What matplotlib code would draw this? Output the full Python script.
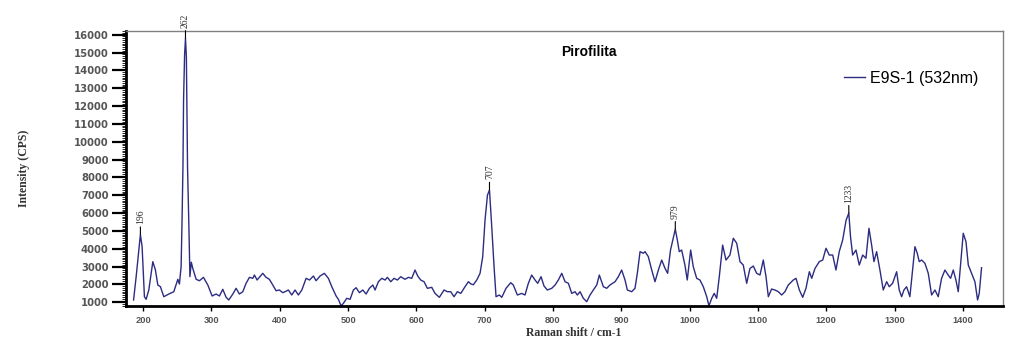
import matplotlib.pyplot as plt
from matplotlib.ticker import MultipleLocator

# Raman spectrum, pyrophyllite sample E9S-1 (532 nm laser)
shift = [
    186, 189.8, 193.7, 196, 198.5, 201.9, 204.4, 208.3, 214.2, 218, 221.5, 225.3,
    230.3, 237.6, 244.9, 250.8, 253.1, 255.6, 256.8, 258.3, 259.2, 260.7, 262,
    263.3, 265, 267, 268.5, 270.5, 272.7, 277.6, 282.4, 288.3, 294.7, 301, 306.8,
    311.7, 316.6, 321.5, 325.4, 331.3, 336.1, 340.9, 345.9, 350.7, 355.6, 360.5,
    362.9, 366.8, 375.1, 380, 384.8, 389.8, 394.6, 399.5, 404.4, 407.8, 412.6,
    417.6, 422.4, 427.3, 432.3, 438.6, 443.5, 449.3, 453.2, 459, 465.3, 471.2,
    476.2, 482.5, 485.8, 489.8, 493.2, 498.1, 503, 507.8, 511.7, 516.6, 521.5,
    526.4, 531.2, 536.2, 539.5, 544.4, 549.3, 554.2, 557.5, 562.5, 567.3, 572.2,
    577.1, 583.4, 588.3, 593.2, 598, 602, 606.3, 611.2, 616.1, 622.5, 627.3,
    633.6, 640.5, 645.4, 650.3, 655.1, 660, 665, 671.2, 676.1, 680, 683.4, 688.4,
    693.2, 697.1, 700.5, 704, 707, 710.3, 713.7, 716.6, 721.4, 725, 731.2, 738.1,
    741.9, 747.8, 754.2, 759, 763.9, 768.8, 773.7, 777.6, 782.5, 786.8, 791.7,
    798.1, 803, 807.8, 812.8, 817.6, 822.5, 827.4, 832.2, 835.6, 839.6, 844.4,
    849.4, 854.2, 859, 864, 867.8, 873.7, 878.6, 883.4, 890.8, 895.6, 900.5,
    905.4, 908.8, 915.2, 920, 923.4, 927.4, 932.2, 934.7, 939.5, 944.5, 949.3,
    954.2, 959.1, 964, 967.8, 972, 979, 982, 984.8, 988.3, 993.1, 996.5, 1001.5,
    1005.3, 1010.3, 1015.1, 1020, 1025, 1028.3, 1032.3, 1036, 1039.6, 1043.4,
    1048.3, 1053.2, 1059, 1063.9, 1068.9, 1073.7, 1078.5, 1083.5, 1088.3, 1093.2,
    1098.1, 1103, 1107.8, 1111.8, 1115.2, 1120, 1124.9, 1129.8, 1134.7, 1139.5,
    1144.4, 1151.7, 1155.7, 1160.6, 1165.5, 1170.3, 1175.2, 1178.7, 1183.5,
    1189.8, 1194.8, 1199.6, 1204.4, 1209.4, 1214.2, 1219, 1224, 1229, 1233,
    1235.5, 1238.6, 1243.5, 1248.3, 1253.3, 1258.1, 1262.5, 1266.4, 1269.8,
    1273.7, 1278.6, 1283.4, 1288.4, 1292.2, 1297.1, 1303, 1306.8, 1310.3, 1313.7,
    1317.6, 1322.4, 1329.8, 1333.2, 1336.1, 1339.6, 1344.4, 1349.3, 1354.2,
    1359.1, 1363.9, 1368.8, 1373.7, 1378.5, 1382, 1385.9, 1389.8, 1393.2, 1396.7,
    1400.5, 1404.5, 1407.9, 1412.8, 1417.6, 1421.5, 1423.9, 1427.3,
]
intensity = [
    1130, 2435, 3930, 4800, 4120, 1315, 1170, 1690, 3280, 2810, 1970, 1875,
    1315, 1465, 1595, 2290, 2025, 3000, 5240, 8600, 12350, 14870, 15800,
    14780, 8600, 5240, 2440, 3250, 2900, 2290, 2210, 2400, 1970, 1355, 1465,
    1355, 1730, 1280, 1130, 1465, 1785, 1465, 1595, 2065, 2400, 2345,
    2530, 2250, 2625, 2400, 2290, 1970, 1650, 1690, 1540, 1595, 1690,
    1410, 1690, 1410, 1690, 2345, 2250, 2475, 2210, 2475, 2625, 2345,
    1875, 1355, 1170, 800, 945, 1225, 1170, 1690, 1820, 1540, 1690,
    1465, 1785, 1970, 1690, 2155, 2345, 2250, 2400, 2155, 2345, 2250,
    2435, 2290, 2400, 2345, 2810, 2475, 2250, 2155, 1785, 1840, 1500,
    1280, 1690, 1595, 1595, 1315, 1595, 1500, 1875, 2155, 2025, 1985, 2250,
    2625, 3560, 5615, 7000, 7300, 5240, 3000, 1315, 1410, 1280, 1785, 2100,
    1970, 1410, 1500, 1410, 2065, 2530, 2250, 2065, 2435, 1915, 1690,
    1785, 1970, 2250, 2625, 2155, 2065, 1500, 1595, 1410, 1595, 1225,
    1035, 1410, 1690, 1970, 2530, 1875, 1785, 1970, 2155, 2435, 2810,
    2250, 1690, 1595, 1785, 2625, 3840, 3750, 3840, 3560, 2810, 2155,
    2810, 3370, 2900, 2625, 3930, 5100, 4490, 3840, 3930, 3090, 2250, 3930,
    3000, 2345, 2250, 1875, 1315, 800, 1225, 1500, 1225, 2435,
    4210, 3370, 3650, 4590, 4310, 3280, 3090, 2065, 2900, 3035,
    2625, 2530, 3370, 2435, 1315, 1745, 1690, 1595, 1410, 1595,
    1970, 2250, 2345, 1690, 1280, 1785, 2715, 2345, 2900,
    3280, 3370, 4030, 3650, 3650, 2810, 3840, 4490, 5600, 6000,
    4680, 3650, 3930, 3090, 3650, 3470, 5150, 4210, 3280,
    3840, 2800, 1690, 2155, 1875, 2065, 2715, 1690, 1315, 1690,
    1875, 1315, 4120, 3750, 3280, 3370, 3190, 2625, 1410,
    1690, 1315, 2345, 2810, 2530, 2345, 2810, 2250, 1595, 3190,
    4870, 4400, 3090, 2625, 2155, 1130, 1500, 2940,
]

# labelled band positions (cm-1)
peaks = [196, 262, 707, 979, 1233]

x_ticks = list(range(200, 1401, 100))
y_ticks = list(range(1000, 16001, 1000))

line_color = '#2c2c82'

fig = plt.figure(figsize=(10.1, 3.41), dpi=100)
ax = fig.add_axes([0.1248, 0.1026, 0.8682, 0.8065])

ax.plot(shift, intensity, color=line_color, lw=1.0, label='E9S-1 (532nm)')

# peak markers: short vertical tick plus rotated wavenumber
for p in peaks:
    ax.annotate(str(p), xy=(p, intensity[shift.index(p)]), xytext=(0, 7.5),
                textcoords='offset points', rotation=90, ha='center', va='bottom',
                fontsize=7, family='Liberation Serif', color='#333333',
                annotation_clip=False,
                arrowprops=dict(arrowstyle='-', lw=0.8, color='black',
                                shrinkA=0, shrinkB=0))

ax.set_xlim(175, 1458.6)
ax.set_ylim(793, 16207)
ax.set_xticks(x_ticks)
ax.set_yticks(y_ticks)
ax.yaxis.set_minor_locator(MultipleLocator(100))

for lab in ax.get_xticklabels():
    lab.set_family('Liberation Sans')
    lab.set_fontweight('bold')
    lab.set_fontsize(6.7)
    lab.set_color('#555555')
for lab in ax.get_yticklabels():
    lab.set_family('DejaVu Sans')
    lab.set_fontweight('bold')
    lab.set_fontsize(7.2)
    lab.set_color('#555555')

ax.tick_params(axis='y', which='major', direction='out', length=10, width=1.6,
               pad=2.5, color='black')
ax.tick_params(axis='y', which='minor', direction='out', length=3, width=0.6,
               color='black')
ax.tick_params(axis='x', which='major', direction='out', length=3.5, width=1.0,
               pad=4, color='black')

ax.spines['left'].set_linewidth(2.0)
ax.spines['bottom'].set_linewidth(2.0)
for side in ('top', 'right'):
    ax.spines[side].set_color('#808080')
    ax.spines[side].set_linewidth(1.0)

ax.set_ylabel('Intensity (CPS)', family='Liberation Serif', fontweight='bold',
              fontsize=8.5, color='#333333')
ax.yaxis.set_label_coords(-0.110, 0.5)
ax.set_xlabel('Raman shift / cm-1', family='Liberation Serif', fontweight='bold',
              fontsize=8.5, color='#333333')
ax.xaxis.set_label_coords(0.511, -0.076)

ax.text(0.528, 0.924, 'Pirofilita', transform=ax.transAxes, ha='center',
        va='center', fontsize=10, fontweight='bold', family='Liberation Sans')

ax.legend(loc='center left', bbox_to_anchor=(0.8187, 0.829), frameon=False,
          borderaxespad=0, borderpad=0, handlelength=1.3, handletextpad=0.3,
          prop={'family': 'Liberation Sans', 'size': 11.5})

fig.savefig('out.png', dpi=100)
